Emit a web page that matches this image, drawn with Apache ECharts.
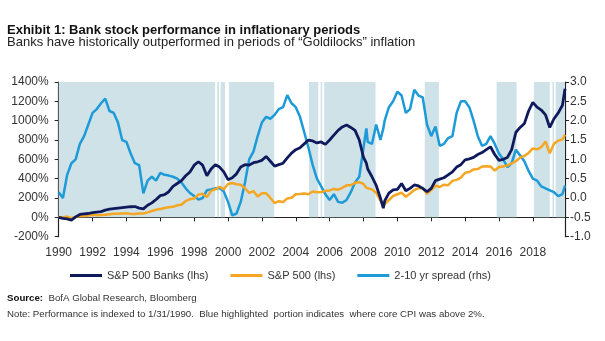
<!DOCTYPE html>
<html>
<head>
<meta charset="utf-8">
<script src="https://cdn.jsdelivr.net/npm/echarts@6/dist/echarts.min.js"></script>
<style>
html,body{margin:0;padding:0;background:#fff;}
#c{width:605px;height:341px;}
</style>
</head>
<body>
<div id="c"></div>
<script>
const FONT = "'Liberation Sans',Arial,sans-serif";

// Decimal-year dates (quarterly, plus a few extra points)
const dates = [
1990.0,1990.25,1990.5,1990.75,
1991.0,1991.25,1991.5,1991.75,
1992.0,1992.25,1992.5,1992.75,
1993.0,1993.25,1993.5,1993.75,
1994.0,1994.25,1994.5,1994.75,
1995.0,1995.25,1995.5,1995.75,
1996.0,1996.25,1996.5,1996.75,
1997.0,1997.25,1997.5,1997.75,
1998.0,1998.25,1998.5,1998.75,
1999.0,1999.25,1999.5,1999.75,
2000.0,2000.25,2000.5,2000.75,
2001.0,2001.25,2001.5,2001.75,
2002.0,2002.25,2002.5,2002.75,
2003.0,2003.25,2003.5,2003.75,
2004.0,2004.25,2004.5,2004.75,
2005.0,2005.25,2005.5,2005.75,
2006.0,2006.25,2006.5,2006.75,
2007.0,2007.25,2007.5,2007.75,
2008.0,2008.17,2008.25,2008.5,2008.75,
2009.0,2009.17,2009.25,2009.5,2009.75,
2010.0,2010.25,2010.5,2010.75,
2011.0,2011.25,2011.5,2011.75,
2012.0,2012.25,2012.5,2012.75,
2013.0,2013.25,2013.5,2013.75,
2014.0,2014.25,2014.5,2014.75,
2015.0,2015.25,2015.5,2015.75,
2016.0,2016.25,2016.5,2016.75,
2017.0,2017.25,2017.5,2017.75,
2018.0,2018.25,2018.5,2018.75,
2019.0,2019.25,2019.5,2019.75,2019.9
];

// S&P 500 Banks, % vs 1/31/1990 (lhs)
const banks = [
0,-10,-15,-28,
5,30,35,40,
50,55,60,75,
85,90,95,100,
105,110,112,95,
88,125,150,185,
225,235,265,320,
350,380,430,470,
540,575,540,430,
500,545,520,470,
390,410,450,520,
545,540,565,575,
590,630,580,530,
545,560,615,665,
700,720,760,800,
790,770,780,755,
800,850,900,935,
955,930,900,800,
620,560,500,420,330,
200,95,170,250,285,
290,350,275,300,
335,325,300,265,
300,380,395,410,
440,470,520,545,
595,605,620,650,
670,700,730,650,
590,600,620,700,
880,930,970,1100,
1190,1140,1110,1060,
930,1020,1080,1160,1330
];

// S&P 500, % vs 1/31/1990 (lhs)
const sp500 = [
0,1,8,-8,
3,14,13,18,
27,22,24,27,
33,37,37,40,
42,36,35,41,
40,52,66,78,
87,96,104,109,
125,130,169,188,
195,235,245,209,
274,291,317,290,
346,356,342,337,
301,253,272,216,
249,249,201,148,
167,158,196,203,
238,242,247,239,
268,259,262,274,
279,294,286,306,
331,332,357,364,
346,305,302,289,254,
174,123,143,179,221,
239,255,213,247,
282,303,302,244,
282,328,314,338,
333,377,388,411,
462,469,496,499,
526,529,527,484,
521,526,538,559,
581,618,636,666,
713,703,726,786,
662,761,794,805,855
];

// 2-10 yr spread, % points (rhs)
const spread = [
0.15,0.0,0.6,0.9,
1.0,1.4,1.6,1.9,
2.2,2.3,2.45,2.57,
2.25,2.2,1.95,1.5,
1.45,1.15,0.9,0.85,
0.12,0.45,0.55,0.45,
0.65,0.6,0.58,0.55,
0.5,0.4,0.25,0.13,
0.05,-0.04,0.0,0.2,
0.22,0.25,0.26,0.17,
-0.1,-0.45,-0.4,-0.1,
0.4,1.0,1.2,1.6,
1.95,2.1,2.05,2.15,
2.3,2.35,2.66,2.45,
2.35,2.1,1.7,1.3,
0.85,0.5,0.3,0.1,
-0.05,0.1,-0.1,-0.12,
-0.05,0.15,0.4,0.55,
1.3,1.8,1.45,1.4,1.9,
1.5,1.8,2.0,2.35,2.5,
2.75,2.65,2.2,2.3,
2.8,2.65,2.6,1.9,
1.6,1.85,1.35,1.4,
1.55,1.6,2.2,2.5,
2.5,2.35,2.0,1.6,
1.35,1.4,1.6,1.4,
1.15,1.0,0.8,0.9,
1.25,1.1,0.95,0.7,
0.5,0.45,0.3,0.25,
0.2,0.15,0.05,0.1,0.32
];

// Periods where core CPI was above 2% (decimal years)
const cpiStart = [1990.0, 1999.36, 1999.56, 2000.05, 2004.78, 2005.47, 2005.68, 2011.62, 2015.86, 2018.06, 2019.16, 2019.35];
const cpiEnd   = [1999.24, 1999.46, 1999.82, 2002.73, 2005.33, 2005.56, 2008.71, 2012.45, 2017.04, 2019.0, 2019.25, 2019.9];

const xTicks = ['1990','1992','1994','1996','1998','2000','2002','2004','2006','2008','2010','2012','2014','2016','2018'];
const leftTicks = ['-200%','0%','200%','400%','600%','800%','1000%','1200%','1400%'];
const rightTicks = ['-1.0','-0.5','0.0','0.5','1.0','1.5','2.0','2.5','3.0'];

const seriesNames = ['S&P 500 Banks (lhs)', 'S&P 500 (lhs)', '2-10 yr spread (rhs)'];
const colors = ['#0f1a5c', '#f5a623', '#1d9ad8'];

const pair = arr => dates.map((d, i) => [d, arr[i]]);
const areas = cpiStart.map((s, i) => [{xAxis: s, yAxis: 0}, {xAxis: cpiEnd[i], yAxis: 1400}]);

const chart = echarts.init(document.getElementById('c'));
chart.setOption({
  animation: false,
  textStyle: {fontFamily: FONT},
  grid: {left: 58.7, right: 40, top: 82, bottom: 104.3, containLabel: false},
  legend: {
    data: seriesNames,
    left: 65, top: 265,
    icon: 'rect', itemWidth: 32, itemHeight: 3, itemGap: 22,
    textStyle: {fontFamily: FONT, fontSize: 11, color: '#333'}
  },
  xAxis: {
    type: 'value', min: 1990, max: 2019.9, interval: 2,
    axisLine: {onZero: true, lineStyle: {color: '#222', width: 1.2}},
    axisTick: {show: true, length: 4, lineStyle: {color: '#222'}},
    splitLine: {show: false},
    axisLabel: {
      margin: 10, fontSize: 12, color: '#333', fontFamily: FONT,
      showMaxLabel: false,
      formatter: v => { const idx = xTicks.indexOf(String(Math.round(v))); return idx >= 0 && Math.abs(v - Math.round(v)) < 1e-6 ? xTicks[idx] : ''; }
    }
  },
  yAxis: [
    {
      type: 'value', min: -200, max: 1400, interval: 200, position: 'left',
      axisLine: {show: true, onZero: false, lineStyle: {color: '#222', width: 1.2}},
      axisTick: {show: true, length: 4, lineStyle: {color: '#222'}},
      splitLine: {show: false},
      axisLabel: {margin: 10, fontSize: 12, color: '#333', fontFamily: FONT,
        formatter: v => leftTicks[Math.round((v + 200) / 200)] }
    },
    {
      type: 'value', min: -1, max: 3, interval: 0.5, position: 'right',
      axisLine: {show: true, onZero: false, lineStyle: {color: '#222', width: 1.2}},
      axisTick: {show: true, length: 4, lineStyle: {color: '#222'}},
      splitLine: {show: false},
      axisLabel: {margin: 5, fontSize: 12, color: '#333', fontFamily: FONT,
        formatter: v => rightTicks[Math.round((v + 1) / 0.5)] }
    }
  ],
  series: [
    {
      type: 'line', name: 'cpi', data: [], yAxisIndex: 0, z: 1, silent: true,
      markArea: {silent: true, itemStyle: {color: '#cfe2e8'}, data: areas}
    },
    {
      type: 'line', name: seriesNames[0], data: pair(banks), yAxisIndex: 0, z: 4,
      showSymbol: false, lineStyle: {color: colors[0], width: 2.8}, itemStyle: {color: colors[0]}
    },
    {
      type: 'line', name: seriesNames[1], data: pair(sp500), yAxisIndex: 0, z: 3,
      showSymbol: false, lineStyle: {color: colors[1], width: 2.5}, itemStyle: {color: colors[1]}
    },
    {
      type: 'line', name: seriesNames[2], data: pair(spread), yAxisIndex: 1, z: 2,
      showSymbol: false, lineStyle: {color: colors[2], width: 2.5}, itemStyle: {color: colors[2]}
    }
  ],
  graphic: [
    {type: 'text', left: 7, top: 24, style: {text: 'Exhibit 1: Bank stock performance in inflationary periods',
      font: "bold 13px " + FONT, fill: '#111'}},
    {type: 'text', left: 7, top: 36, style: {text: 'Banks have historically outperformed in periods of \u201cGoldilocks\u201d inflation',
      font: "13px " + FONT, fill: '#222'}},
    {type: 'text', left: 7, top: 293, style: {
      text: '{b|Source:}  BofA Global Research, Bloomberg',
      rich: {b: {fontFamily: FONT, fontWeight: 'bold', fontSize: 9.7, fill: '#111'}},
      font: "9.7px " + FONT, fill: '#333'}},
    {type: 'text', left: 7, top: 309, style: {
      text: 'Note: Performance is indexed to 1/31/1990.  Blue highlighted  portion indicates  where core CPI was above 2%.',
      font: "9.7px " + FONT, fill: '#333'}}
  ]
});
</script>
</body>
</html>
